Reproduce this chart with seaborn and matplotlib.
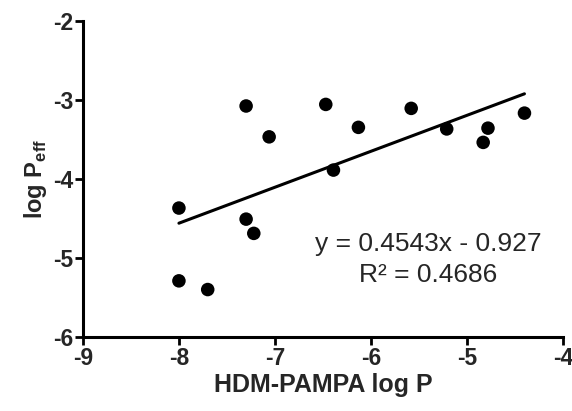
import matplotlib
matplotlib.use('Agg')
import matplotlib.pyplot as plt
import numpy as np
import pandas as pd
import seaborn as sns

# Data
pampa_logp = [-8.00, -8.00, -7.70, -7.30, -7.30, -7.22, -7.06, -6.47, -6.39,
              -6.13, -5.58, -5.21, -4.83, -4.78, -4.40]
log_peff = [-4.37, -5.29, -5.40, -3.08, -4.51, -4.69, -3.47, -3.06, -3.89,
            -3.35, -3.11, -3.37, -3.54, -3.36, -3.17]
slope, intercept = 0.4543, -0.927
r2 = 0.4686
x_ticks = [-9, -8, -7, -6, -5, -4]
y_ticks = [-6, -5, -4, -3, -2]

df = pd.DataFrame({'x': pampa_logp, 'y': log_peff})
fit_x = np.array([min(pampa_logp), max(pampa_logp)])
fit = pd.DataFrame({'x': fit_x, 'y': slope * fit_x + intercept})

sns.set_style('ticks')
plt.rcParams['font.family'] = ['Liberation Sans', 'DejaVu Sans']
plt.rcParams['mathtext.fontset'] = 'custom'
plt.rcParams['mathtext.bf'] = 'Liberation Sans:bold'
plt.rcParams['mathtext.rm'] = 'Liberation Sans'

fig = plt.figure(figsize=(5.72, 4.11), dpi=100)
ax = fig.add_axes([0.145, 0.18, 0.839, 0.77])

sns.lineplot(data=fit, x='x', y='y', color='black', linewidth=2.2, ax=ax)
sns.scatterplot(data=df, x='x', y='y', color='black', s=95, edgecolor='none', ax=ax, zorder=3)

ax.set_xlim(-9, -4)
ax.set_ylim(-6, -2)
ax.set_xticks(x_ticks)
ax.set_yticks(y_ticks)
ax.set_xticklabels([str(t) for t in x_ticks], fontsize=16.5, fontweight='bold')
ax.set_yticklabels([str(t) for t in y_ticks], fontsize=16.5, fontweight='bold')
ax.tick_params(direction='out', length=6, width=2, color='black', pad=1)
for side in ['left', 'bottom']:
    ax.spines[side].set_linewidth(2.2)
    ax.spines[side].set_color('black')
sns.despine(ax=ax)

ax.set_xlabel('HDM-PAMPA log P', fontsize=18, fontweight='bold', labelpad=2)
ax.set_ylabel(r'log P$_{\mathbf{eff}}$', fontsize=17, fontweight='bold', labelpad=3)

ax.text(-5.40, -4.83, f'y = {slope}x - {abs(intercept)}', fontsize=19,
        ha='center', va='center')
ax.text(-5.40, -5.21, f'R\u00b2 = {r2}', fontsize=19, ha='center', va='center')

fig.savefig('out.png', dpi=100)
